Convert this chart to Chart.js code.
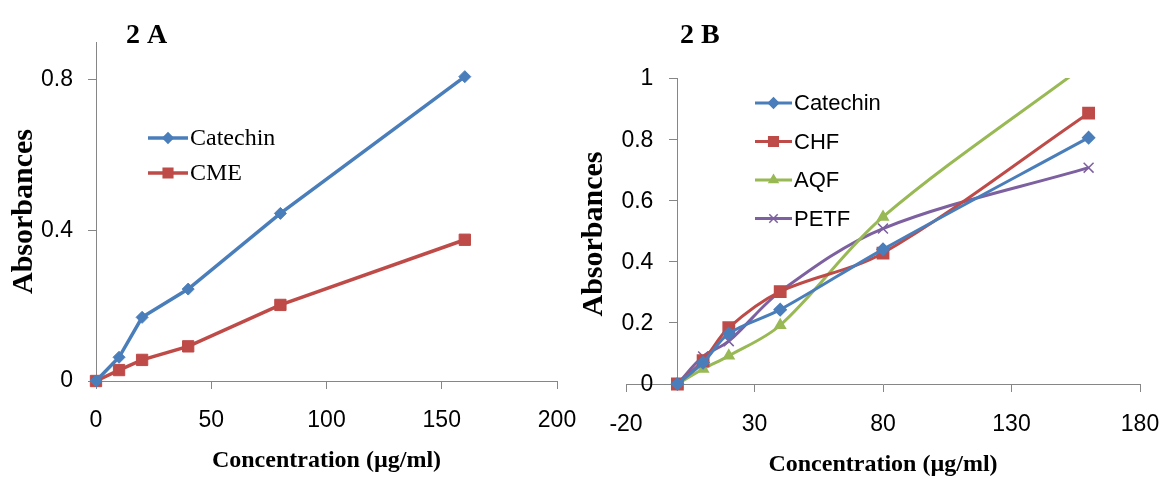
<!DOCTYPE html>
<html>
<head>
<meta charset="utf-8">
<title>Absorbance vs concentration</title>
<script src="https://cdn.jsdelivr.net/npm/chart.js@4.4.1/dist/chart.umd.min.js"></script>
<style>
  html, body { margin: 0; padding: 0; background: #fff; }
  #wrap { position: relative; width: 1163px; height: 479px; overflow: hidden; }
  #wrap canvas { position: absolute; top: 0; }
  #chartA { left: 0; }
  #chartB { left: 566px; }
</style>
</head>
<body>
<div id="wrap">
  <canvas id="chartA" width="580" height="479"></canvas>
  <canvas id="chartB" width="597" height="479"></canvas>
</div>
<script>
// --- data (concentration in µg/ml, absorbance) ---
const concA = [0, 10, 20, 40, 80, 160];
const catechinA = [0, 0.063, 0.169, 0.244, 0.445, 0.808];
const cmeA = [0, 0.029, 0.056, 0.092, 0.202, 0.375];

const concB = [0, 10, 20, 40, 80, 160];
const catechinB = [0, 0.07, 0.165, 0.243, 0.44, 0.805];
const chfB = [0, 0.076, 0.184, 0.302, 0.428, 0.885];
const aqfB = [0, 0.049, 0.092, 0.192, 0.546, 1.05];
const petfB = [0, 0.09, 0.14, 0.302, 0.508, 0.707];

const xTicksA = [0, 50, 100, 150, 200];
const yTicksA = [0, 0.4, 0.8];
const xTicksB = [-20, 30, 80, 130, 180];
const yTicksB = [0, 0.2, 0.4, 0.6, 0.8, 1];

// Excel 2007 style series colours
const BLUE = '#4A7EBB', RED = '#BE4B48', GREEN = '#98B954', PURPLE = '#7D60A0';
const AXIS = '#868686';

const SANS = "'Liberation Sans', Arial, sans-serif";
const SERIF = "'Liberation Serif', 'Times New Roman', serif";
const TICK_SIZE = 23;

function pts(xs, ys) {
    return xs.map((x, i) => ({ x: x, y: ys[i] }));
}

function fixedTicks(list) {
    return scale => { scale.ticks = list.map(v => ({ value: v })); };
}

// panel letter, in-plot legend and (for 2 B) the y labels of the axis that sits at x = 0
const panelDecor = {
    id: 'panelDecor',
    afterDraw(chart, args, opts) {
        const ctx = chart.ctx;
        ctx.save();
        ctx.fillStyle = '#000';
        ctx.textBaseline = 'alphabetic';
        ctx.font = 'bold 28px ' + SERIF;
        ctx.fillText(opts.label, opts.labelX, opts.labelY);

        // legend
        ctx.font = opts.legendFont;
        ctx.textBaseline = 'middle';
        chart.data.datasets.forEach((ds, i) => {
            const y = opts.legendY + i * opts.legendGap;
            const x0 = opts.legendX;
            ctx.strokeStyle = ds.borderColor;
            ctx.lineWidth = ds.borderWidth;
            ctx.beginPath();
            ctx.moveTo(x0, y);
            ctx.lineTo(x0 + opts.legendLine, y);
            ctx.stroke();
            ctx.fillStyle = ds.backgroundColor;
            ctx.strokeStyle = ds.borderColor;
            ctx.lineWidth = 1.5;
            Chart.helpers.drawPoint(ctx, {
                pointStyle: ds.pointStyle,
                radius: ds.pointRadius * 0.85,
                borderWidth: 1.5,
                rotation: 0
            }, x0 + opts.legendLine / 2, y);
            ctx.fillStyle = '#000';
            ctx.fillText(ds.label, x0 + opts.legendLine + 2, y + 1);
        });

        if (opts.crossedY) {
            const xs = chart.scales.x, ys = chart.scales.y;
            const axisX = xs.getPixelForValue(0);
            ctx.font = TICK_SIZE + 'px ' + SANS;
            ctx.textAlign = 'right';
            ctx.textBaseline = 'middle';
            yTicksB.forEach(v => {
                ctx.fillText(String(v), axisX - 24, ys.getPixelForValue(v) + 1);
            });
            // rotated axis title
            ctx.translate(opts.yTitleX, opts.yTitleY);
            ctx.rotate(-Math.PI / 2);
            ctx.textAlign = 'center';
            ctx.font = 'bold 30px ' + SERIF;
            ctx.fillText(opts.yTitle, 0, 0);
        }
        ctx.restore();
    }
};

function axisBase() {
    return {
        type: 'linear',
        grid: { drawOnChartArea: false, tickLength: 8, color: AXIS, lineWidth: 1 },
        border: { color: AXIS, width: 1 },
        ticks: { color: '#000', font: { family: SANS, size: TICK_SIZE }, callback: v => String(v) }
    };
}

// keep the plot edges where the layout padding puts them
function noLabelOverflow(s) {
    s.paddingLeft = 0;
    s.paddingRight = 0;
}

// ---------- 2 A ----------
const xA = axisBase();
Object.assign(xA, {
    min: 0, max: 200,
    afterBuildTicks: fixedTicks(xTicksA),
    afterFit: s => { s.height = 98; noLabelOverflow(s); },
    title: { display: true, text: 'Concentration (µg/ml)', color: '#000',
             font: { family: SERIF, size: 24, weight: 'bold' }, padding: { top: 0, bottom: 4 } }
});
xA.ticks.padding = 18;

const yA = axisBase();
Object.assign(yA, {
    min: 0, max: 0.9,
    afterBuildTicks: fixedTicks(yTicksA),
    afterFit: s => { s.width = 96; },
    title: { display: true, text: 'Absorbances', color: '#000',
             font: { family: SERIF, size: 30, weight: 'bold' }, padding: { top: 6, bottom: 0 } }
});
yA.ticks.padding = 15;

new Chart(document.getElementById('chartA'), {
    type: 'line',
    data: {
        datasets: [
            { label: 'Catechin', data: pts(concA, catechinA), borderColor: BLUE, backgroundColor: BLUE,
              borderWidth: 3.5, pointStyle: 'rectRot', pointRadius: 6, pointBorderWidth: 1, clip: false },
            { label: 'CME', data: pts(concA, cmeA), borderColor: RED, backgroundColor: RED,
              borderWidth: 3.5, pointStyle: 'rect', pointRadius: 8, pointBorderWidth: 1, clip: false }
        ]
    },
    options: {
        responsive: false,
        animation: false,
        events: [],
        layout: { padding: { left: 0, right: 23, top: 42, bottom: 0 } },
        plugins: {
            legend: { display: false },
            tooltip: { enabled: false },
            panelDecor: {
                label: '2 A', labelX: 126, labelY: 43,
                legendX: 148, legendY: 138, legendGap: 35, legendLine: 40,
                legendFont: '24px ' + SERIF
            }
        },
        scales: { x: xA, y: yA }
    },
    plugins: [panelDecor]
});

// ---------- 2 B ----------
const xB = axisBase();
Object.assign(xB, {
    min: -20, max: 180,
    afterBuildTicks: fixedTicks(xTicksB),
    afterFit: s => { s.height = 95; noLabelOverflow(s); },
    title: { display: true, text: 'Concentration (µg/ml)', color: '#000',
             font: { family: SERIF, size: 24, weight: 'bold' }, padding: { top: 0, bottom: 0 } }
});
xB.ticks.padding = 19;

// y axis crosses the x axis at 0; its labels are drawn by panelDecor
const yB = axisBase();
Object.assign(yB, {
    min: 0, max: 1,
    position: { x: 0 },
    afterBuildTicks: fixedTicks(yTicksB)
});
yB.grid.tickLength = 8;
yB.ticks.display = false;

const lineB = { borderWidth: 3, tension: 0.33, pointBorderWidth: 1.5,
                clip: { left: 14, right: 14, top: 0, bottom: 14 } };

new Chart(document.getElementById('chartB'), {
    type: 'line',
    data: {
        datasets: [
            Object.assign({ label: 'Catechin', data: pts(concB, catechinB), borderColor: BLUE, backgroundColor: BLUE,
                            pointStyle: 'rectRot', pointRadius: 6 }, lineB),
            Object.assign({ label: 'CHF', data: pts(concB, chfB), borderColor: RED, backgroundColor: RED,
                            pointStyle: 'rect', pointRadius: 8 }, lineB),
            Object.assign({ label: 'AQF', data: pts(concB, aqfB), borderColor: GREEN, backgroundColor: GREEN,
                            pointStyle: 'triangle', pointRadius: 6 }, lineB),
            Object.assign({ label: 'PETF', data: pts(concB, petfB), borderColor: PURPLE, backgroundColor: PURPLE,
                            pointStyle: 'crossRot', pointRadius: 7 }, lineB)
        ]
    },
    options: {
        responsive: false,
        animation: false,
        events: [],
        layout: { padding: { left: 60, right: 23, top: 78, bottom: 0 } },
        plugins: {
            legend: { display: false },
            tooltip: { enabled: false },
            panelDecor: {
                label: '2 B', labelX: 114, labelY: 43,
                legendX: 189, legendY: 103, legendGap: 38.5, legendLine: 37,
                legendFont: '22px ' + SANS,
                crossedY: true, yTitle: 'Absorbances', yTitleX: 28, yTitleY: 234
            }
        },
        scales: { x: xB, y: yB }
    },
    plugins: [panelDecor]
});
</script>
</body>
</html>
